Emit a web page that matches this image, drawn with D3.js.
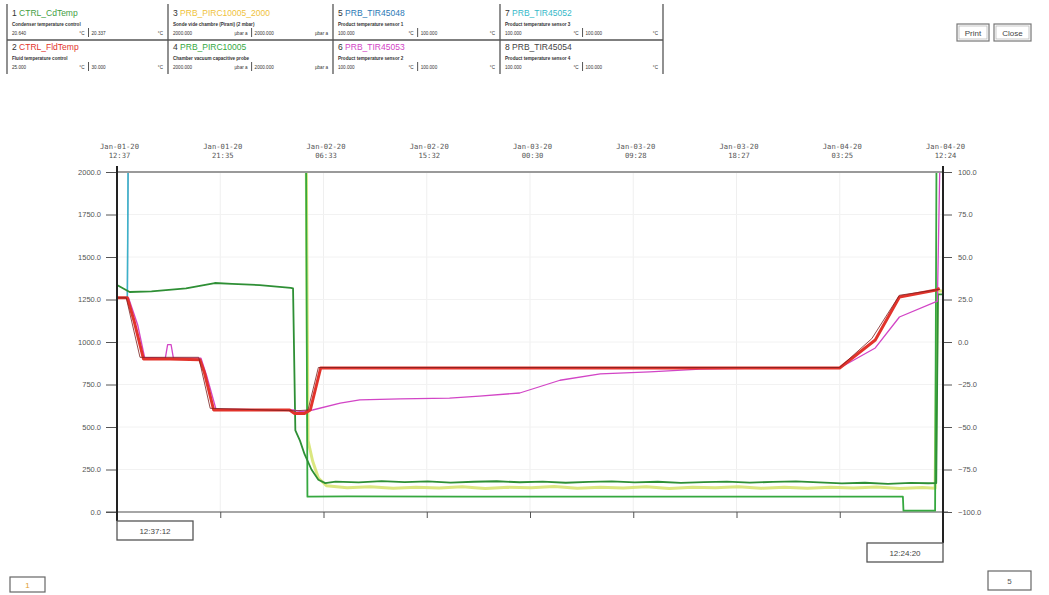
<!DOCTYPE html>
<html><head><meta charset="utf-8">
<script src="https://cdn.jsdelivr.net/npm/d3@7/dist/d3.min.js"></script>
<style>
body{margin:0;background:#fff;font-family:Arial,"Liberation Sans",sans-serif;}
svg{display:block}
</style></head><body>
<svg id="chart" width="1049" height="595"></svg>
<script>
// ---- Channel legend ----
const channelNums   = [1, 2, 3, 4, 5, 6, 7, 8];
const channelNames  = ["CTRL_CdTemp", "CTRL_FldTemp", "PRB_PIRC10005_2000", "PRB_PIRC10005",
                       "PRB_TIR45048", "PRB_TIR45053", "PRB_TIR45052", "PRB_TIR45054"];
const channelDescs  = ["Condenser temperature control", "Fluid temperature control",
                       "Sonde vide chambre (Pirani) (2 mbar)", "Chamber vacuum capacitive probe",
                       "Product temperature sensor 1", "Product temperature sensor 2",
                       "Product temperature sensor 3", "Product temperature sensor 4"];
const channelColors = ["#3f9e3f", "#e2332b", "#f0c23a", "#35a83f", "#2a79b5", "#d245c6", "#35b9c9", "#444444"];
const channelLow    = ["20.640", "25.000", "2000.000", "2000.000", "100.000", "100.000", "100.000", "100.000"];
const channelHigh   = ["20.337", "30.000", "2000.000", "2000.000", "100.000", "100.000", "100.000", "100.000"];
const channelUnits  = ["°C", "°C", "µbar a", "µbar a", "°C", "°C", "°C", "°C"];

// ---- Axes ----
const totalHours = 71.786;               // Jan-01-20 12:37:12 -> Jan-04-20 12:24:20
const timeTickDates = ["Jan-01-20", "Jan-01-20", "Jan-02-20", "Jan-02-20", "Jan-03-20",
                       "Jan-03-20", "Jan-03-20", "Jan-04-20", "Jan-04-20"];
const timeTickTimes = ["12:37", "21:35", "06:33", "15:32", "00:30", "09:28", "18:27", "03:25", "12:24"];
const pressureTicks = [0, 250, 500, 750, 1000, 1250, 1500, 1750, 2000];
const tempTicks     = [-100, -75, -50, -25, 0, 25, 50, 75, 100];
const cursorStart = "12:37:12";
const cursorEnd   = "12:24:20";

// ---- Series: [hours from start, value] ----
// temperatures (°C, right axis)
const fldTemp = [[0,26],[0.9,26],[1.5,12],[2.3,-10],[4.6,-10],[7.2,-10.5],[7.6,-18],[8.4,-40],[12,-40],
  [15.0,-40],[15.4,-42],[16.3,-42],[16.8,-40],[17.7,-15.3],[25,-15.3],[40,-15.3],[55,-15.3],[62.8,-15.3],
  [65.9,1.2],[68.0,26.5],[71.2,30.6],[71.5,31.5]];
const prodTemp4 = [[0,26],[0.8,26],[2.0,-9],[7.1,-9],[8.1,-39],[15.5,-40.5],[16.6,-40],[17.5,-15],[62.8,-15],
  [65.6,2],[68.0,27.5],[71.5,31]];
const prodTemp2 = [[0,26],[1.0,26],[1.8,10],[2.4,-9],[4.2,-9.5],[4.4,-1.5],[4.7,-1.5],[4.9,-9.5],[7.3,-9.5],
  [7.8,-20],[8.6,-39.5],[15.3,-40],[16.0,-41],[17.0,-40],[19.4,-36],[21.1,-34.1],[24.6,-33.5],[28.9,-33],
  [31.5,-31.8],[35.0,-30],[38.5,-22.5],[42.0,-18.8],[46.3,-17.6],[50.7,-16],[55.9,-15.3],[62.8,-15.3],
  [65.9,-3.5],[68.0,14.7],[71.3,24],[71.5,100]];
const condTemp = [[0,33.5],[1.1,29.4],[3,29.8],[6,31.5],[8.5,34.7],[10,34.2],[12.4,33.5],[15.1,31.8],
  [15.3,31.5],[15.5,-52],[15.9,-58],[16.3,-66],[16.9,-75],[17.5,-81],[18.1,-83],[19,-82.1],[21,-82.6],
  [23,-81.8],[25,-82.4],[27,-82.0],[29,-82.7],[31,-82.2],[33,-81.9],[35,-82.5],[37,-82.1],[39,-82.8],
  [41,-82.3],[43,-82.0],[45,-82.6],[47,-82.2],[49,-82.9],[51,-82.4],[53,-82.1],[55,-82.7],[57,-82.3],
  [59,-82.0],[61,-82.6],[63,-83.2],[65,-82.8],[67,-83.4],[69,-82.9],[70.5,-83.1],[71.2,-83],[71.35,28],[71.79,28]];
const prodTemp3 = [[0,26],[0.9,26],[0.95,100],[71.79,100]];
const prodTemp1 = [[0,26],[0.9,26],[0.97,100],[71.79,100]];
// pressures (µbar, left axis)
const piraniPress = [[0,2600],[16.4,2600],[16.6,420],[17,300],[17.5,200],[18.2,155],[20,142],[22,148],
  [24,139],[26,146],[28,141],[30,149],[32,138],[34,145],[36,142],[38,150],[40,139],[42,146],[44,141],
  [46,148],[48,138],[50,145],[52,142],[54,149],[56,140],[58,146],[60,139],[62,145],[64,141],[66,147],
  [68,138],[70,144],[71.1,140],[71.3,1300],[71.79,1300]];
const chamberPress = [[0,2600],[16.4,2600],[16.55,90],[20,92],[30,90],[40,91],[50,90],[60,91],[68.3,90],
  [68.35,8],[71.1,8],[71.25,2600],[71.79,2600]];

// ---- Layout ----
const svg = d3.select("#chart");
const X0 = 117, X1 = 943, Y0 = 172, Y1 = 512;

const x = d3.scaleLinear().domain([0, totalHours]).range([X0, X1]);
const yP = d3.scaleLinear().domain([0, 2000]).range([Y1, Y0]);
const yT = d3.scaleLinear().domain([-100, 100]).range([Y1, Y0]);
const timeTicks = timeTickTimes.map((_, i) => i * totalHours / 8);

// ---- Header table ----
const colX = [7, 168, 333, 500, 663];
const head = svg.append("g").attr("class", "header");
colX.forEach(cx => head.append("line").attr("x1", cx).attr("x2", cx).attr("y1", 4).attr("y2", 74)
  .attr("stroke", "#555").attr("stroke-width", 1.3));
head.append("line").attr("x1", colX[0]).attr("x2", colX[4]).attr("y1", 40).attr("y2", 40)
  .attr("stroke", "#555").attr("stroke-width", 1.3);

channelNums.forEach((n, i) => {
  const col = Math.floor(i / 2), row = i % 2;
  const cx = colX[col] + 5, cy = row * 34;
  const g = head.append("g").attr("transform", `translate(${cx},${cy})`);
  const t = g.append("text").attr("x", 0).attr("y", 16).attr("font-size", 8.5);
  t.append("tspan").attr("fill", "#333").text(n + " ");
  t.append("tspan").attr("fill", channelColors[i]).text(channelNames[i]);
  g.append("text").attr("x", 0).attr("y", 25.5).attr("font-size", 4.6).attr("fill", "#333")
    .attr("font-weight", "bold").text(channelDescs[i]);
  const w = colX[col + 1] - colX[col] - 10;
  const mid = w * 0.52;
  g.append("text").attr("x", 0).attr("y", 34.5).attr("font-size", 4.6).attr("fill", "#333").text(channelLow[i]);
  g.append("text").attr("x", mid - 6).attr("y", 34.5).attr("font-size", 4.6).attr("fill", "#333")
    .attr("text-anchor", "end").text(channelUnits[i]);
  g.append("line").attr("x1", mid - 2).attr("x2", mid - 2).attr("y1", 28).attr("y2", 37)
    .attr("stroke", "#555").attr("stroke-width", 1);
  g.append("text").attr("x", mid + 1).attr("y", 34.5).attr("font-size", 4.6).attr("fill", "#333").text(channelHigh[i]);
  g.append("text").attr("x", w).attr("y", 34.5).attr("font-size", 4.6).attr("fill", "#333")
    .attr("text-anchor", "end").text(channelUnits[i]);
});

// ---- Buttons ----
function button(bx, by, bw, bh, label) {
  svg.append("rect").attr("x", bx).attr("y", by).attr("width", bw).attr("height", bh)
    .attr("fill", "#fff").attr("stroke", "#777").attr("stroke-width", 1.2);
  svg.append("rect").attr("x", bx + 2).attr("y", by + 2).attr("width", bw - 4).attr("height", bh - 4)
    .attr("fill", "none").attr("stroke", "#bbb").attr("stroke-width", 0.8);
  svg.append("text").attr("x", bx + bw / 2).attr("y", by + bh / 2 + 3).attr("text-anchor", "middle")
    .attr("font-size", 8).attr("fill", "#444").text(label);
}
button(957, 24, 32, 17, "Print");
button(994, 24, 37, 17, "Close");

// ---- Grid ----
const grid = svg.append("g").attr("class", "grid");
grid.selectAll(".gv").data(timeTicks).join("line")
  .attr("x1", d => x(d)).attr("x2", d => x(d)).attr("y1", Y0).attr("y2", Y1)
  .attr("stroke", "#efefef").attr("stroke-width", 1);
grid.selectAll(".gh").data(pressureTicks).join("line")
  .attr("x1", X0).attr("x2", X1).attr("y1", d => yP(d)).attr("y2", d => yP(d))
  .attr("stroke", "#f2f2f2").attr("stroke-width", 1);

// ---- Axes ----
const axLeft = svg.append("g").attr("transform", `translate(${X0},0)`)
  .call(d3.axisLeft(yP).tickValues(pressureTicks).tickFormat(d3.format(".1f")).tickSize(11).tickPadding(5));
axLeft.select(".domain").remove();
axLeft.selectAll("text").attr("font-size", 7.5).attr("fill", "#555").attr("font-family", "Arial, sans-serif");
axLeft.selectAll("line").attr("stroke", "#555");

const axRight = svg.append("g").attr("transform", `translate(${X1},0)`)
  .call(d3.axisRight(yT).tickValues(tempTicks).tickFormat(d3.format(".1f")).tickSize(9).tickPadding(6));
axRight.select(".domain").remove();
axRight.selectAll("text").attr("font-size", 7.5).attr("fill", "#555").attr("font-family", "Arial, sans-serif");
axRight.selectAll("line").attr("stroke", "#555");

const axBottom = svg.append("g").attr("transform", `translate(0,${Y1})`)
  .call(d3.axisBottom(x).tickValues(timeTicks.slice(1, 8)).tickFormat("").tickSize(6));
axBottom.select(".domain").remove();
axBottom.selectAll("line").attr("stroke", "#555");
svg.append("line").attr("x1", 106).attr("x2", 948).attr("y1", Y1).attr("y2", Y1)
  .attr("stroke", "#555").attr("stroke-width", 1.2);

const axTop = svg.append("g").attr("transform", `translate(0,${Y0})`)
  .call(d3.axisTop(x).tickValues(timeTicks).tickFormat("").tickSize(0));
axTop.select(".domain").remove();
axTop.selectAll(".tick").each(function (d, i) {
  const t = d3.select(this).append("text").attr("text-anchor", "middle")
    .attr("font-family", "'DejaVu Sans Mono', monospace").attr("font-size", 7.2).attr("fill", "#555");
  t.append("tspan").attr("x", 2).attr("y", -23).text(timeTickDates[i]);
  t.append("tspan").attr("x", 2).attr("y", -14).text(timeTickTimes[i]);
});

// ---- Series ----
svg.append("clipPath").attr("id", "plotClip").append("rect")
  .attr("x", X0).attr("y", Y0).attr("width", X1 - X0 + 1).attr("height", Y1 - Y0);
const plot = svg.append("g").attr("clip-path", "url(#plotClip)");
const lineT = d3.line().x(d => x(d[0])).y(d => yT(d[1]));
const lineP = d3.line().x(d => x(d[0])).y(d => yP(d[1]));

const drawOrder = [
  {data: prodTemp1,   gen: lineT, color: channelColors[4], w: 1.4, op: 0.8},
  {data: prodTemp3,   gen: lineT, color: channelColors[6], w: 1.4, op: 0.8},
  {data: piraniPress, gen: lineP, color: "#d5e36a",        w: 3,   op: 0.85},
  {data: chamberPress,gen: lineP, color: channelColors[3], w: 1.8, op: 1},
  {data: condTemp,    gen: lineT, color: "#2e8f35",        w: 1.8, op: 1},
  {data: prodTemp2,   gen: lineT, color: channelColors[5], w: 1.3, op: 1},
  {data: fldTemp,     gen: lineT, color: channelColors[1], w: 3,   op: 1},
  {data: prodTemp4,   gen: lineT, color: "#7a2020",        w: 0.9, op: 0.9}
];
drawOrder.forEach(s => plot.append("path").datum(s.data).attr("d", s.gen)
  .attr("fill", "none").attr("stroke", s.color).attr("stroke-width", s.w)
  .attr("stroke-opacity", s.op).attr("stroke-linejoin", "round"));

// top frame edge over the traces
svg.append("line").attr("x1", X0).attr("x2", X1).attr("y1", Y0).attr("y2", Y0)
  .attr("stroke", "#9a9a9a").attr("stroke-width", 1.8);

// ---- Cursors ----
function cursor(cx, bottom, label, boxLeft) {
  svg.append("line").attr("x1", cx).attr("x2", cx).attr("y1", Y0 - 6).attr("y2", bottom)
    .attr("stroke", "#222").attr("stroke-width", 2);
  const bx = boxLeft ? cx : cx - 76;
  svg.append("rect").attr("x", bx).attr("y", bottom).attr("width", 76).attr("height", 19)
    .attr("fill", "#fff").attr("stroke", "#555").attr("stroke-width", 1.3);
  svg.append("text").attr("x", bx + 38).attr("y", bottom + 12.5).attr("text-anchor", "middle")
    .attr("font-size", 8).attr("fill", "#444").text(label);
}
cursor(x(0), 521, cursorStart, true);
cursor(x(totalHours), 543, cursorEnd, false);

// ---- Page indicators ----
svg.append("rect").attr("x", 10).attr("y", 577).attr("width", 35).attr("height", 15)
  .attr("fill", "#fff").attr("stroke", "#666").attr("stroke-width", 1.2);
svg.append("text").attr("x", 27.5).attr("y", 588).attr("text-anchor", "middle")
  .attr("font-size", 8).attr("fill", "#e0a030").text("1");
svg.append("rect").attr("x", 988).attr("y", 571).attr("width", 43).attr("height", 19)
  .attr("fill", "#fff").attr("stroke", "#666").attr("stroke-width", 1.2);
svg.append("text").attr("x", 1009.5).attr("y", 584).attr("text-anchor", "middle")
  .attr("font-size", 8).attr("fill", "#555").text("5");
</script></body></html>
